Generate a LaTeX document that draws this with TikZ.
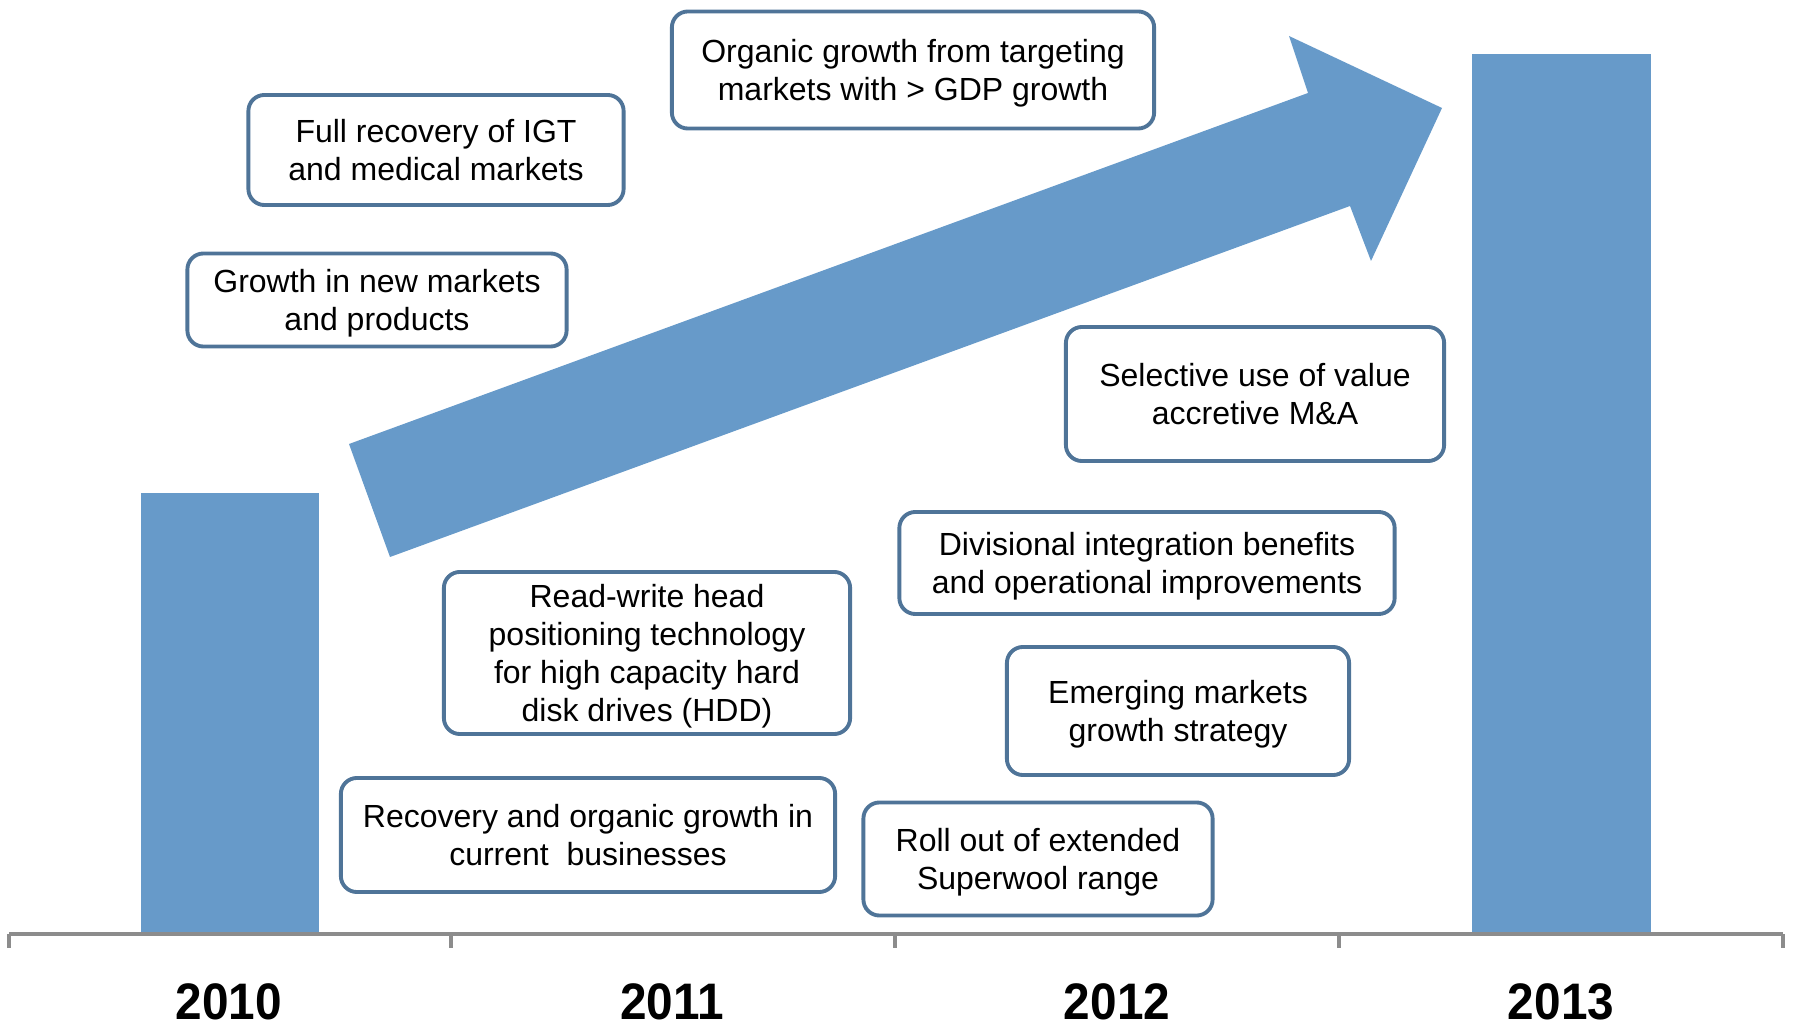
\documentclass[tikz,border=0pt]{standalone}
\usepackage{fontspec}
\setmainfont{Liberation Sans}
\newfontfamily\yearfont[FakeStretch=0.93]{Liberation Sans}
\usepackage{xcolor}
\usepackage{tikz}
\usetikzlibrary{positioning}

\definecolor{barblue}{RGB}{103,154,201}
\definecolor{boxline}{RGB}{79,116,152}
\definecolor{axisgray}{RGB}{140,140,140}

\begin{document}
\begin{tikzpicture}[
    x=0.01cm, y=-0.01cm,
    font=\fontsize{9.1pt}{10.8pt}\selectfont,
    box/.style={
        rectangle,
        rounded corners=1.6mm,
        draw=boxline,
        line width=1.1pt,
        fill=white,
        align=center,
        text depth=0pt,
        inner sep=0pt
    },
    year/.style={
        font=\fontsize{14.6pt}{17pt}\selectfont\yearfont\bfseries,
        anchor=base
    },
    bar/.style={fill=barblue}
]

\useasboundingbox (0,0) rectangle (1794,1025);

\fill[bar] (141,493) rectangle (319,934);
\fill[bar] (1472,54) rectangle (1651,934);

\fill[bar] (390,557) -- (349,444) -- (1308,93) -- (1289,36)
    -- (1442,108) -- (1371,261) -- (1350,206) -- cycle;

\draw[axisgray, line width=0.9pt] (9,934) -- (1783,934);
\foreach \x in {9,451,895,1339,1783}
    \draw[axisgray, line width=0.9pt] (\x,934) -- (\x,948);

\node[box, minimum width=4.82cm, minimum height=1.17cm] (organic) at (913,70) {
    Organic growth from targeting\\markets with > GDP growth
};

\node[box, minimum width=3.75cm, minimum height=1.10cm] (igt) at (436,150) {
    Full recovery of IGT\\and medical markets
};

\node[box, minimum width=3.79cm, minimum height=0.93cm] (newmkt) at (377,300) {
    Growth in new markets\\and products
};

\node[box, minimum width=3.78cm, minimum height=1.34cm] (mna) at (1255,394) {
    Selective use of value\\accretive M\&A
};

\node[box, minimum width=4.95cm, minimum height=1.02cm] (divisional) at (1147,563) {
    Divisional integration benefits\\and operational improvements
};

\node[box, minimum width=4.06cm, minimum height=1.62cm] (hdd) at (647,653) {
    Read-write head\\positioning technology\\for high capacity hard\\disk drives (HDD)
};

\node[box, minimum width=3.42cm, minimum height=1.28cm] (emerging) at (1178,711) {
    Emerging markets\\growth strategy
};

\node[box, minimum width=4.94cm, minimum height=1.14cm] (recovery) at (588,835) {
    Recovery and organic growth in\\current\ \ businesses
};

\node[box, minimum width=3.49cm, minimum height=1.13cm] (superwool) at (1038,859) {
    Roll out of extended\\Superwool range
};

\node[year] (y2010) at (229,1019) {2010};
\node[year] (y2011) at (672,1019) {2011};
\node[year] (y2012) at (1117,1019) {2012};
\node[year] (y2013) at (1561,1019) {2013};

\end{tikzpicture}
\end{document}
